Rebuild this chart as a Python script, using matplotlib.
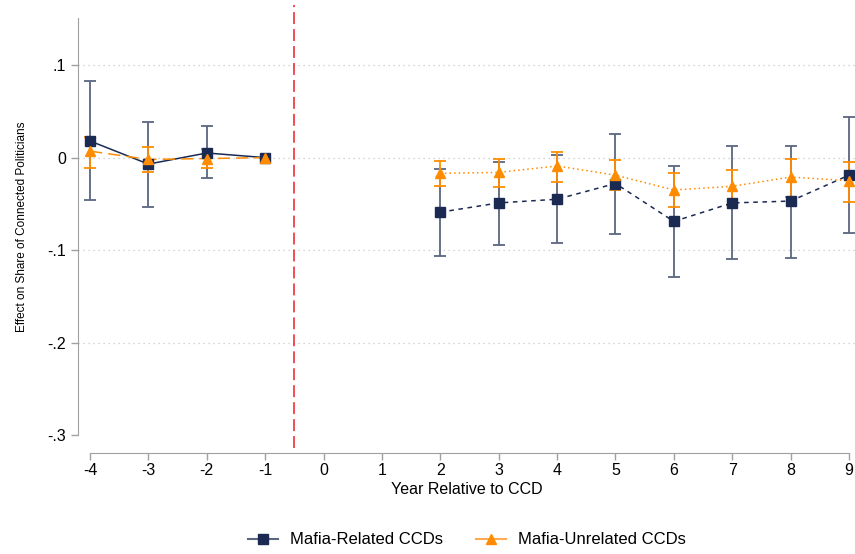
import numpy as np
import matplotlib.pyplot as plt
from matplotlib.lines import Line2D

plt.rcParams['font.family'] = ['Liberation Sans', 'DejaVu Sans']

NAVY = '#1a2a52'
NAVY_CI = '#5b6680'
ORANGE = '#ff8c00'

years_pre = [-4, -3, -2, -1]
years_post = [2, 3, 4, 5, 6, 7, 8, 9]

# Mafia-related CCDs: estimate, lower, upper
rel_pre = [0.018, -0.007, 0.005, 0.0]
rel_pre_lo = [-0.046, -0.053, -0.022, 0.0]
rel_pre_hi = [0.083, 0.039, 0.034, 0.0]
rel_post = [-0.059, -0.049, -0.045, -0.028, -0.069, -0.049, -0.047, -0.019]
rel_post_lo = [-0.106, -0.095, -0.092, -0.083, -0.129, -0.110, -0.109, -0.081]
rel_post_hi = [-0.012, -0.005, 0.003, 0.026, -0.009, 0.013, 0.013, 0.044]

# Mafia-unrelated CCDs
unr_pre = [0.007, -0.002, -0.001, 0.0]
unr_pre_lo = [-0.011, -0.016, -0.011, 0.0]
unr_pre_hi = [0.022, 0.011, 0.009, 0.0]
unr_post = [-0.017, -0.016, -0.009, -0.019, -0.035, -0.031, -0.021, -0.025]
unr_post_lo = [-0.031, -0.032, -0.026, -0.035, -0.053, -0.051, -0.043, -0.048]
unr_post_hi = [-0.004, -0.002, 0.006, -0.003, -0.017, -0.013, -0.001, -0.005]

fig = plt.figure(figsize=(8.55, 5.54), dpi=100)
ax = fig.add_axes([78 / 855, 1 - 435 / 554, 777 / 855, 417 / 554])

ax.set_xlim(-4 - 12 / 58.4, 9 + 6 / 58.4)
ax.set_ylim(-0.3, 0.151)

for yv in [0.1, 0.0, -0.1, -0.2]:
    ax.axhline(yv, color='#c8c8c8', lw=0.9, ls=(0, (1, 3)), zorder=0)


def draw(x, est, lo, hi, color, ci_color, marker, ls, ms):
    x = np.array(x)
    est = np.array(est)
    err = [est - np.array(lo), np.array(hi) - est]
    ax.errorbar(x, est, yerr=err, fmt='none', ecolor=ci_color, elinewidth=1.3,
                capsize=4, capthick=1.3, zorder=2)
    ax.plot(x, est, color=color, ls=ls, lw=1.1, zorder=3)
    ax.plot(x, est, color=color, ls='none', marker=marker, ms=ms, zorder=4)


draw(years_pre, rel_pre, rel_pre_lo, rel_pre_hi, NAVY, NAVY_CI, 's', '-', 6.5)
draw(years_post, rel_post, rel_post_lo, rel_post_hi, NAVY, NAVY_CI, 's', (0, (3, 3)), 6.5)
draw(years_pre, unr_pre, unr_pre_lo, unr_pre_hi, ORANGE, ORANGE, '^', (0, (8, 4)), 7)
draw(years_post, unr_post, unr_post_lo, unr_post_hi, ORANGE, ORANGE, '^', (0, (1, 2)), 7)

# treatment line runs from the top of the figure down to the x axis
ax.axvline(-0.5, ymin=-13 / 417, ymax=1 + 13 / 417, clip_on=False,
           color='#ee1c24', lw=1.1, ls=(0, (7.8, 3.3)), zorder=1)

for s in ['top', 'right']:
    ax.spines[s].set_visible(False)
ax.spines['left'].set_color('#a0a0a0')
ax.spines['bottom'].set_color('#a0a0a0')
ax.spines['bottom'].set_position(('outward', 13))
ax.spines['bottom'].set_bounds(-4, 9)

ax.set_xticks(range(-4, 10))
ax.set_xticklabels([str(v) for v in range(-4, 10)])
ax.set_yticks([0.1, 0.0, -0.1, -0.2, -0.3])
ax.set_yticklabels(['.1', '0', '-.1', '-.2', '-.3'])
ax.tick_params(axis='both', colors='#a0a0a0', labelcolor='black', labelsize=11.5,
               length=5, width=1)
ax.tick_params(axis='x', pad=2)

ax.set_xlabel('Year Relative to CCD', fontsize=11.5, labelpad=3)
ax.set_ylabel('Effect on Share of Connected Politicians', fontsize=8.5, labelpad=14)

handles = [
    Line2D([], [], color=NAVY_CI, lw=1.5, marker='s', ms=6.5,
           markerfacecolor=NAVY, markeredgecolor=NAVY),
    Line2D([], [], color='#ffaa55', lw=1.5, marker='^', ms=7,
           markerfacecolor=ORANGE, markeredgecolor=ORANGE),
]
fig.legend(handles, ['Mafia-Related CCDs', 'Mafia-Unrelated CCDs'], loc='center',
           bbox_to_anchor=(0.546, 0.0255), ncol=2, frameon=False, fontsize=12,
           handlelength=1.8, handletextpad=0.7, columnspacing=2.0)

fig.savefig('out.png', dpi=100)
